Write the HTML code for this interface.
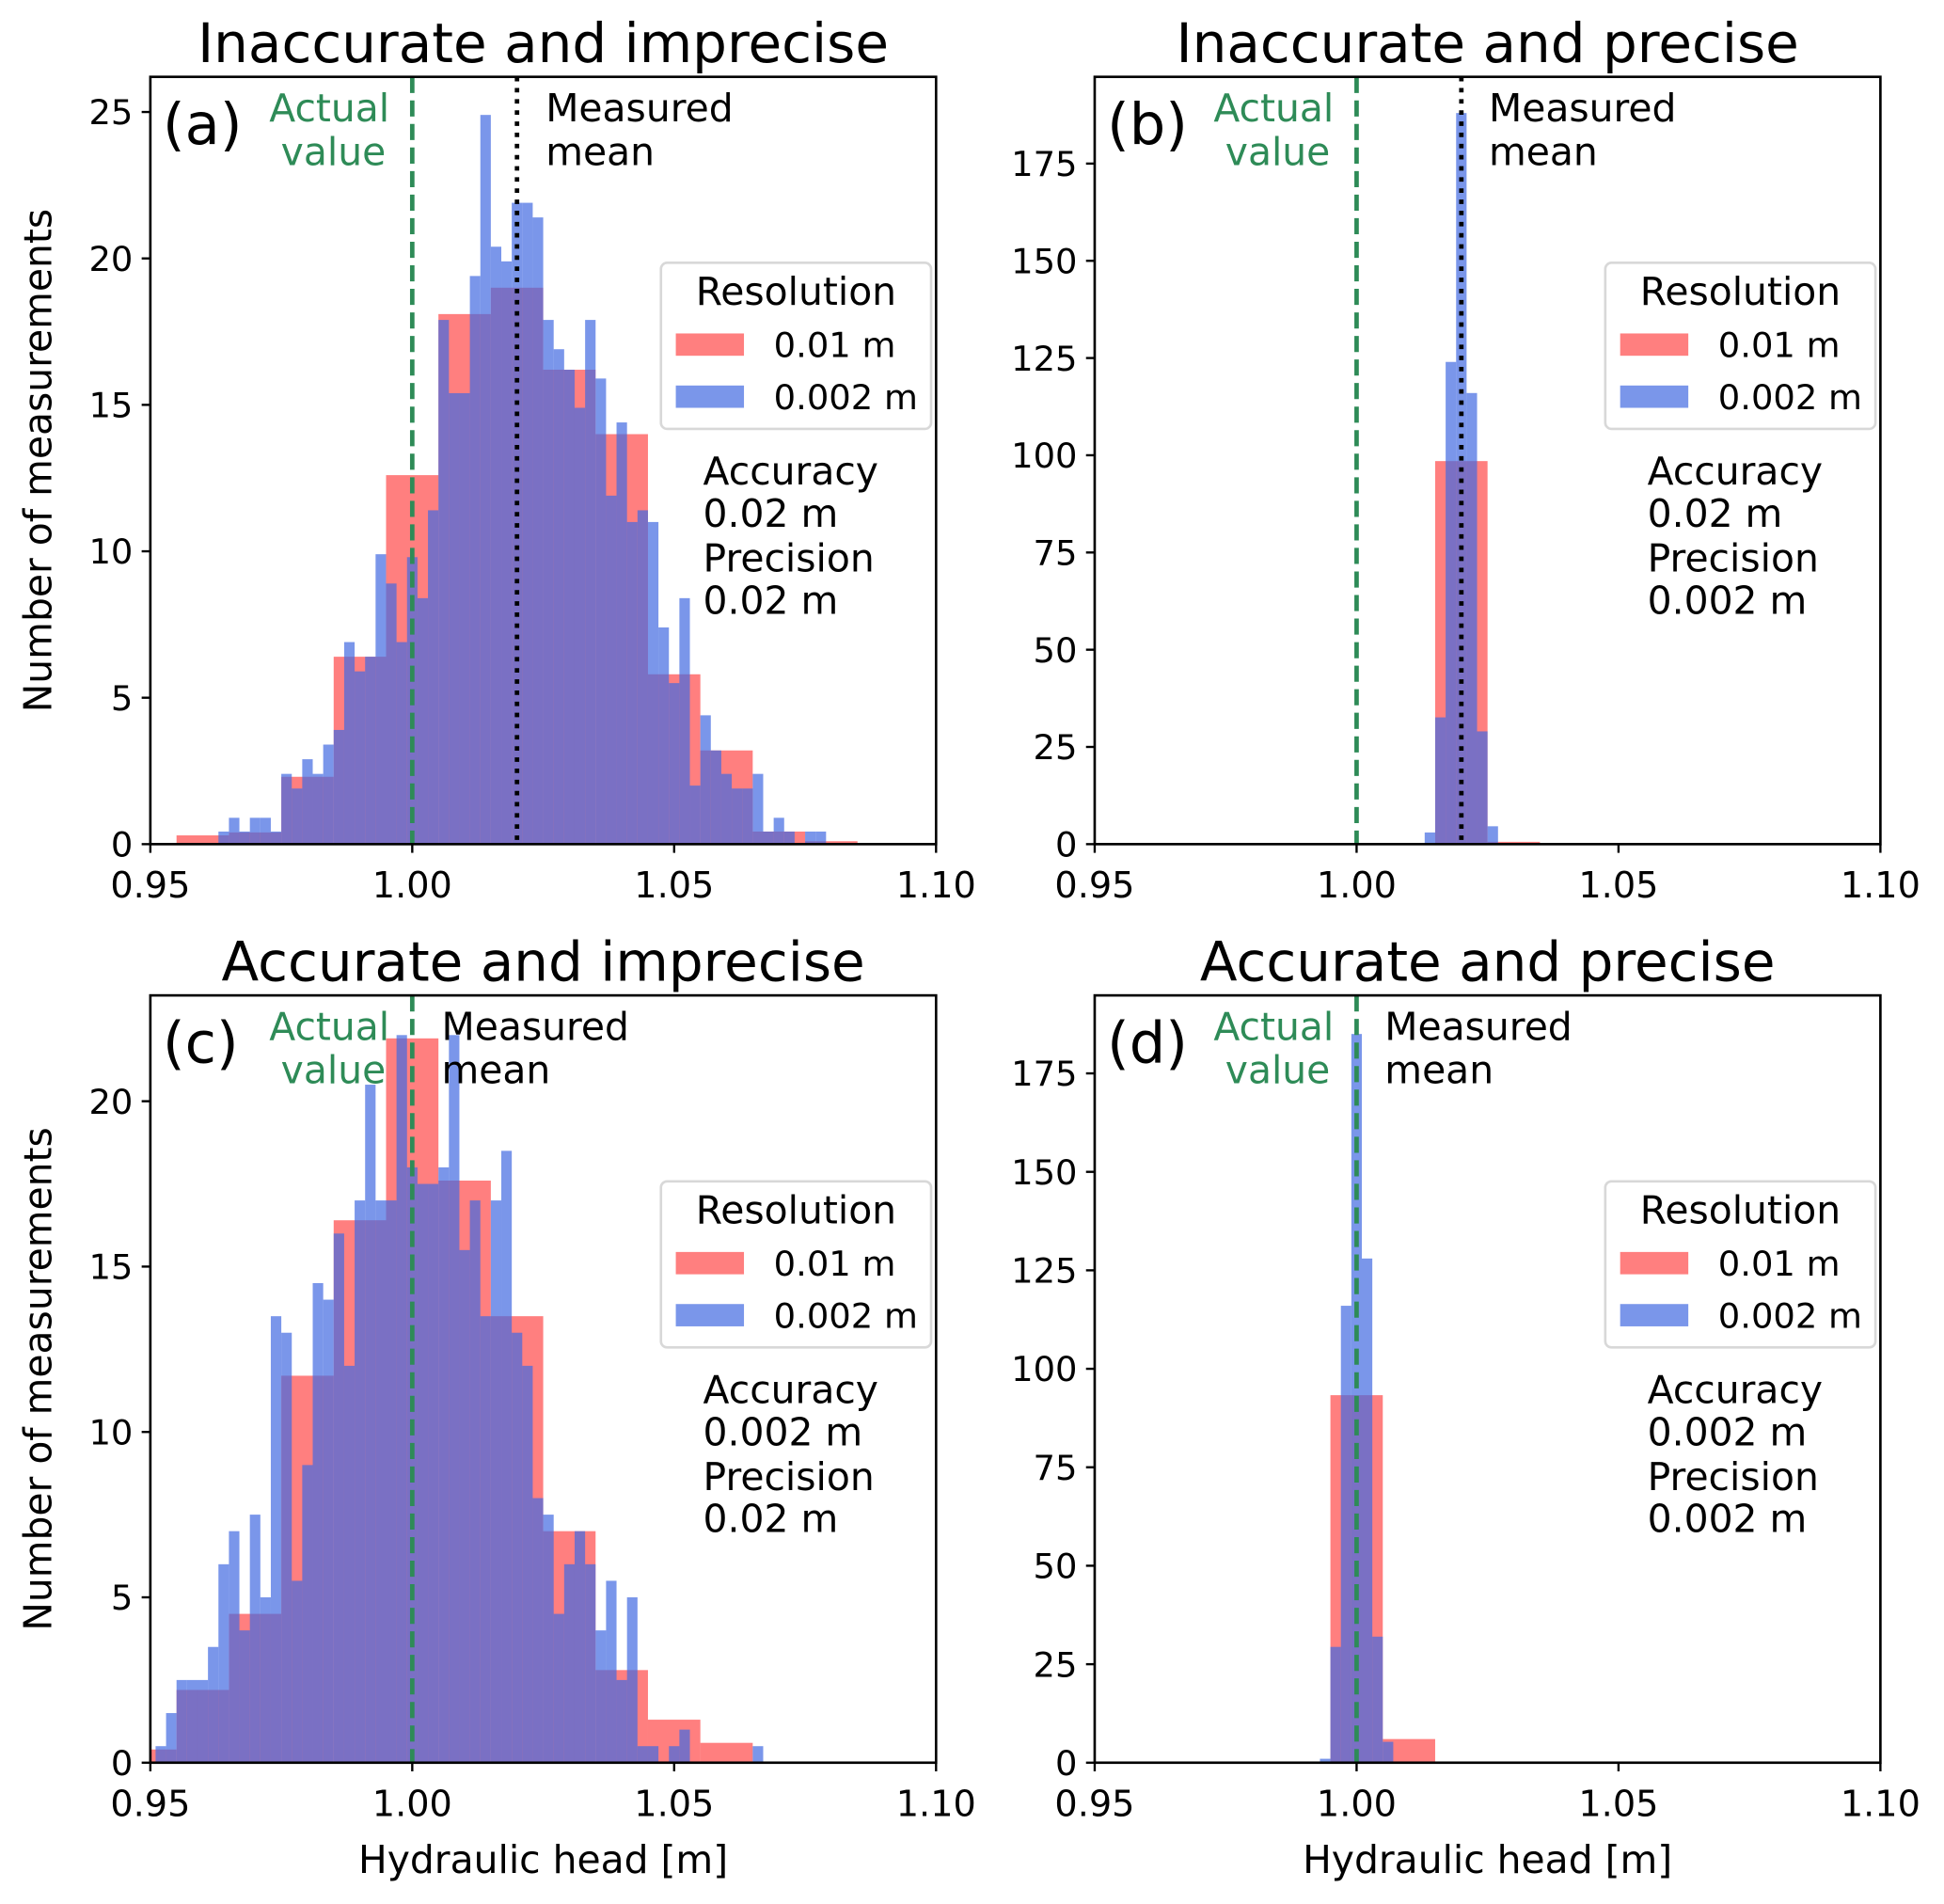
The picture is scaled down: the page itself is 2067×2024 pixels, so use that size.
<!DOCTYPE html>
<html><head><meta charset="utf-8">
<style>
html,body{margin:0;padding:0;background:#fff;}
svg{display:block;font-family:"DejaVu Sans","Liberation Sans",sans-serif;}
</style></head>
<body>
<svg id="fig" xmlns="http://www.w3.org/2000/svg" width="2067" height="2024" viewBox="0 0 1568 1536"></svg>
<script>
// ---- data ----
const xTicks = [0.95, 1.00, 1.05, 1.10];
const xTickLabels = ["0.95", "1.00", "1.05", "1.10"];
// Panel (a): inaccurate & imprecise
const redA = [0.3, 0.4, 2.3, 6.4, 12.6, 18.1, 19.0, 16.2, 14.0, 5.8, 3.2, 0.43, 0.1];
const redAStart = 0.955;
const blueA = [0.43,0.9,0.43,0.9,0.9,0.43,2.4,1.9,2.9,2.4,3.4,3.9,6.9,5.9,6.4,9.9,8.9,6.9,9.8,8.4,11.4,17.9,15.4,15.4,19.4,24.9,20.4,19.9,21.9,21.9,21.4,17.9,16.9,16.2,14.9,17.9,15.9,11.9,14.4,11.0,11.4,11.0,7.4,5.5,8.4,2.0,4.4,3.2,2.4,1.9,1.9,2.4,0.43,0.9,0.43,0,0.43,0.43];
const blueAStart = 0.963;
const yTicksA = [0, 5, 10, 15, 20, 25];
// Panel (b): inaccurate & precise
const redB = [98.5, 0.6];
const redBStart = 1.015;
const blueB = [3, 32.6, 124, 188, 116, 29, 4.6];
const blueBStart = 1.013;
const yTicksB = [0, 25, 50, 75, 100, 125, 150, 175];
// Panel (c): accurate & imprecise
const redC = [0.4, 2.2, 4.5, 11.7, 16.4, 21.9, 17.6, 13.5, 7.0, 2.8, 1.3, 0.6];
const redCStart = 0.945;
const blueC = [0.5,1.5,2.5,2.5,2.5,3.5,6.0,7.0,4.0,7.5,5.0,13.5,13.0,5.5,9.0,14.5,14.0,16.0,12.0,17.0,20.5,17.0,17.0,22.0,18.0,17.5,17.5,18.0,22.0,15.5,17.0,13.5,17.0,18.5,13.0,12.0,8.0,7.5,4.5,6.0,7.0,6.0,4.0,5.5,2.5,5.0,0.5,0.5,0,0.5,1.0,0,0,0,0,0,0,0.5];
const blueCStart = 0.951;
const yTicksC = [0, 5, 10, 15, 20];
// Panel (d): accurate & precise
const redD = [93.3, 6];
const redDStart = 0.995;
const blueD = [1, 29.4, 116, 185, 128, 32, 5.3];
const blueDStart = 0.993;
const yTicksD = [0, 25, 50, 75, 100, 125, 150, 175];

const NS = "http://www.w3.org/2000/svg";
const fig = document.getElementById('fig');
function mk(tag, attrs, parent, text) {
  const e = document.createElementNS(NS, tag);
  for (const k in attrs) e.setAttribute(k, attrs[k]);
  if (text !== undefined) e.textContent = text;
  (parent || fig).appendChild(e);
  return e;
}

const panels = [
  {id:'a', title:'Inaccurate and imprecise', L:121, R:755, T:62, B:681, ymax:26.2,
   red:redA, redStart:redAStart, blue:blueA, blueStart:blueAStart, yTicks:yTicksA,
   acc:'0.02 m', prec:'0.02 m', mean:1.02, meas:440, ylabel:true, xlabel:false},
  {id:'b', title:'Inaccurate and precise', L:883, R:1517, T:62, B:681, ymax:197.3,
   red:redB, redStart:redBStart, blue:blueB, blueStart:blueBStart, yTicks:yTicksB,
   acc:'0.02 m', prec:'0.002 m', mean:1.02, meas:1201, ylabel:false, xlabel:false},
  {id:'c', title:'Accurate and imprecise', L:121, R:755, T:803, B:1422, ymax:23.2,
   red:redC, redStart:redCStart, blue:blueC, blueStart:blueCStart, yTicks:yTicksC,
   acc:'0.002 m', prec:'0.02 m', mean:null, meas:356, ylabel:true, xlabel:true},
  {id:'d', title:'Accurate and precise', L:883, R:1517, T:803, B:1422, ymax:194.8,
   red:redD, redStart:redDStart, blue:blueD, blueStart:blueDStart, yTicks:yTicksD,
   acc:'0.002 m', prec:'0.002 m', mean:null, meas:1117, ylabel:false, xlabel:true}
];

panels.forEach(p => {
  const g = mk('g', {});
  
  
  const xs = v => p.L + (v - 0.95) / 0.15 * (p.R - p.L);
  const ys = v => p.B - v / p.ymax * (p.B - p.T);
  const clip = mk('clipPath', {id:'clip' + p.id}, g);
  mk('rect', {x:p.L, y:p.T, width:p.R - p.L, height:p.B - p.T}, clip);
  const bars = mk('g', {'clip-path':'url(#clip' + p.id + ')'}, g);
  p.red.forEach((v, i) => {
    if (v <= 0) return;
    const x0 = xs(p.redStart + i * 0.01), x1 = xs(p.redStart + (i + 1) * 0.01);
    const r = mk('rect', {x:x0, y:ys(v), width:x1 - x0, height:p.B - ys(v), fill:'#ff0000', 'fill-opacity':0.5}, bars);
    
    
  });
  p.blue.forEach((v, i) => {
    if (v <= 0) return;
    const x0 = xs(p.blueStart + i * 0.002), x1 = xs(p.blueStart + (i + 1) * 0.002);
    const r = mk('rect', {x:x0, y:ys(v), width:x1 - x0, height:p.B - ys(v), fill:'#4169e1', 'fill-opacity':0.7}, bars);
    
    
  });
  if (p.mean !== null) {
    const ml = mk('line', {x1:xs(p.mean), x2:xs(p.mean), y1:p.T, y2:p.B, stroke:'#000', 'stroke-width':3.6, 'stroke-dasharray':'3.6,5.4'}, g);
    
    
  }
  const al = mk('line', {x1:xs(1.0), x2:xs(1.0), y1:p.T, y2:p.B, stroke:'#2e8b57', 'stroke-width':3.6, 'stroke-dasharray':'13,6'}, g);
  
  
  const fr = mk('rect', {x:p.L, y:p.T, width:p.R - p.L, height:p.B - p.T, fill:'none', stroke:'#000', 'stroke-width':2}, g);
  
  
  xTicks.forEach((v, i) => {
    mk('line', {x1:xs(v), x2:xs(v), y1:p.B, y2:p.B + 7, stroke:'#000', 'stroke-width':1.8}, g);
    const t = mk('text', {x:xs(v), y:p.B + 43, 'text-anchor':'middle', 'font-size':29}, g, xTickLabels[i]);
    
    
  });
  p.yTicks.forEach(v => {
    mk('line', {x1:p.L - 7, x2:p.L, y1:ys(v), y2:ys(v), stroke:'#000', 'stroke-width':1.8}, g);
    const t = mk('text', {x:p.L - 14, y:ys(v) + 10, 'text-anchor':'end', 'font-size':28}, g, String(v));
    
    
  });
  const cx = (p.L + p.R) / 2;
  const ti = mk('text', {x:cx, y:p.T - 12, 'text-anchor':'middle', 'font-size':44}, g, p.title);
  
  
  const lab = mk('text', {x:p.L + 10, y:p.T + 54, 'font-size':46}, g, '(' + p.id + ')');
  
  
  const ax = p.L + 193;
  const t1 = mk('text', {x:ax, y:p.T + 36, 'text-anchor':'end', 'font-size':31, fill:'#2e8b57'}, g, 'Actual');
  
  
  mk('text', {x:ax - 3, y:p.T + 71, 'text-anchor':'end', 'font-size':31, fill:'#2e8b57'}, g, 'value');
  const t2 = mk('text', {x:p.meas, y:p.T + 36, 'font-size':31}, g, 'Measured');
  
  
  mk('text', {x:p.meas, y:p.T + 71, 'font-size':31}, g, 'mean');
  const lg = mk('g', {}, g);
  
  
  const lx = p.L + 412, ly = p.T + 150;
  mk('rect', {x:lx, y:ly, width:218, height:134, rx:5, fill:'#fff', 'fill-opacity':0.8, stroke:'#d8d8d8', 'stroke-width':2}, lg);
  mk('text', {x:lx + 109, y:ly + 34, 'text-anchor':'middle', 'font-size':31}, lg, 'Resolution');
  mk('rect', {x:lx + 12, y:ly + 57, width:55, height:18, fill:'#ff0000', 'fill-opacity':0.5}, lg);
  mk('text', {x:lx + 91, y:ly + 76, 'font-size':28}, lg, '0.01 m');
  mk('rect', {x:lx + 12, y:ly + 99, width:55, height:18, fill:'#4169e1', 'fill-opacity':0.7}, lg);
  mk('text', {x:lx + 91, y:ly + 118, 'font-size':28}, lg, '0.002 m');
  const at = mk('g', {'font-size':31}, g);
  
  
  const tx = p.L + 446;
  mk('text', {x:tx, y:p.T + 329}, at, 'Accuracy');
  mk('text', {x:tx, y:p.T + 363}, at, p.acc);
  mk('text', {x:tx, y:p.T + 399}, at, 'Precision');
  mk('text', {x:tx, y:p.T + 433}, at, p.prec);
  if (p.ylabel) {
    const yl = mk('text', {x:0, y:0, 'text-anchor':'middle', 'font-size':31, transform:'translate(41,' + ((p.T + p.B) / 2) + ') rotate(-90)'}, g, 'Number of measurements');
    
    
  }
  if (p.xlabel) {
    const xl = mk('text', {x:cx, y:p.B + 89, 'text-anchor':'middle', 'font-size':31}, g, 'Hydraulic head [m]');
    
    
  }
});
</script>
</body></html>
